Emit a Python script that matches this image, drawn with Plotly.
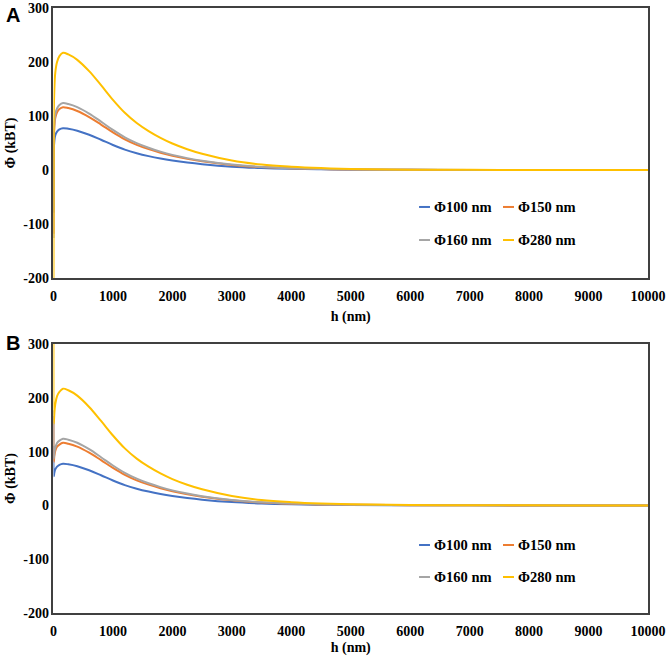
import plotly.graph_objects as go

# separation distance h (nm)
h = [0, 5, 15, 30, 60, 100, 160, 250, 400, 600, 800, 1000, 1200, 1400, 1600,
     1800, 2000, 2250, 2500, 3000, 3500, 4000, 4500, 5000, 6000, 7000, 8000,
     9000, 10000]

# common decaying part (h >= 100 nm)
tail_100 = [75.4, 77.5, 76.4, 72.8, 65.3, 56.0, 46.4, 37.8, 31.1, 25.7, 21.2,
            17.5, 13.7, 10.7, 6.2, 3.6, 2.1, 1.25, 0.7, 0.25, 0.1, 0.04, 0, 0]
tail_150 = [113.1, 116.3, 114.7, 109.3, 98.1, 84.2, 69.7, 56.8, 46.6, 38.6,
            31.9, 26.3, 20.6, 16.1, 9.4, 5.4, 3.2, 1.9, 1.1, 0.4, 0.16, 0.05, 0, 0]
tail_160 = [120.5, 123.9, 122.2, 116.5, 104.5, 89.6, 74.2, 60.5, 49.7, 41.1,
            34.0, 28.0, 22.0, 17.1, 10.0, 5.7, 3.4, 2.0, 1.1, 0.4, 0.17, 0.06, 0, 0]
tail_280 = [211, 217, 214, 204, 183, 157, 130, 106, 87, 72, 59.5, 49, 38.5, 30,
            17.5, 10, 6, 3.5, 2, 0.7, 0.3, 0.1, 0, 0]

# panel A (h = 0, 5, 15, 30, 60 nm)
a_100 = [-79, 36, 54, 64, 71] + tail_100
a_150 = [-118, 54, 80, 96, 107] + tail_150
a_160 = [-126, 57, 86, 103, 114] + tail_160
a_280 = [-220, 100, 150, 180, 200] + tail_280

# panel B (h = 0, 5, 15, 30, 60 nm)
b_100 = [111, 54, 61, 67, 72] + tail_100
b_150 = [166, 81, 92, 101, 109] + tail_150
b_160 = [177, 87, 98, 107, 116] + tail_160
b_280 = [310, 152, 172, 188, 203] + tail_280

names = ["Φ100 nm", "Φ150 nm", "Φ160 nm", "Φ280 nm"]
colors = ["#4472C4", "#ED7D31", "#A5A5A5", "#FFC000"]

x_ticks = [0, 1000, 2000, 3000, 4000, 5000, 6000, 7000, 8000, 9000, 10000]
x_labels = ["0", "1000", "2000", "3000", "4000", "5000", "6000", "7000", "8000", "9000", "10000"]
y_ticks = [-200, -100, 0, 100, 200, 300]
y_labels = ["-200", "-100", "0", "100", "200", "300"]

serif = "Liberation Serif, Times New Roman, serif"

fig = go.Figure()

panels = [("x", "y", [a_100, a_150, a_160, a_280]),
          ("x2", "y2", [b_100, b_150, b_160, b_280])]

for xa, ya, series in panels:
    for name, ys, c in zip(names, series, colors):
        fig.add_trace(go.Scatter(x=h, y=ys, name=name, mode="lines",
                                 line=dict(color=c, width=2, shape="spline", smoothing=1),
                                 xaxis=xa, yaxis=ya, showlegend=False))

title_font = dict(family=serif, size=14, color="black", weight="bold")
axis_common = dict(showgrid=False, zeroline=False, showline=True, mirror=True,
                   linecolor="#404040", linewidth=1.5, ticks="", automargin=False,
                   ticklabeloverflow="allow",
                   tickfont=dict(family=serif, size=14, color="black", weight="bold"))
x_common = dict(axis_common, ticklabelstandoff=4)

fig.update_layout(
    width=671, height=656,
    margin=dict(l=0, r=0, t=0, b=0),
    plot_bgcolor="white", paper_bgcolor="white",
    xaxis=dict(domain=[0.0797, 0.9657], anchor="y", range=[0, 10000],
               tickvals=x_ticks, ticktext=x_labels,
               title=dict(text="h (nm)", standoff=9, font=title_font), **x_common),
    yaxis=dict(domain=[0.5762, 0.9878], anchor="x", range=[-200, 300],
               tickvals=y_ticks, ticktext=y_labels,
               title=dict(text="Φ (kBT)", standoff=4, font=title_font), **axis_common),
    xaxis2=dict(domain=[0.0797, 0.9657], anchor="y2", range=[0, 10000],
                tickvals=x_ticks, ticktext=x_labels,
                title=dict(text="h (nm)", standoff=9, font=title_font), **x_common),
    yaxis2=dict(domain=[0.0655, 0.4756], anchor="x2", range=[-200, 300],
                tickvals=y_ticks, ticktext=y_labels,
                title=dict(text="Φ (kBT)", standoff=4, font=title_font), **axis_common),
)

# legend laid out as in the original: two columns, two rows, short keys
leg_font = dict(family=serif, size=14.5, color="black", weight="bold")
key_cols = [(0.6245, 0.6408, 0.6438), (0.7496, 0.7660, 0.7690)]
row_ys = [[0.6845, 0.6341], [0.1692, 0.1204]]
for rows in row_ys:
    for i, (name, c) in enumerate(zip(names, colors)):
        x0, x1, xt = key_cols[i % 2]
        yy = rows[i // 2]
        fig.add_shape(type="line", xref="paper", yref="paper", x0=x0, x1=x1,
                      y0=yy, y1=yy, line=dict(color=c, width=2))
        fig.add_annotation(text=name, x=xt, y=yy, xref="paper", yref="paper",
                           xanchor="left", yanchor="middle", showarrow=False,
                           font=leg_font)

letter_font = dict(family="Liberation Sans, Arial, sans-serif", size=20, color="black")
for letter, yy in [("A", 0.9771), ("B", 0.4771)]:
    fig.add_annotation(text="<b>" + letter + "</b>", x=0.006, y=yy, xref="paper",
                       yref="paper", xanchor="left", yanchor="middle",
                       showarrow=False, font=letter_font)

# drop the default page margin so the figure fills the window
fig.write_html("out.html", config={"displayModeBar": False},
               post_script="document.body.style.margin='0';")
